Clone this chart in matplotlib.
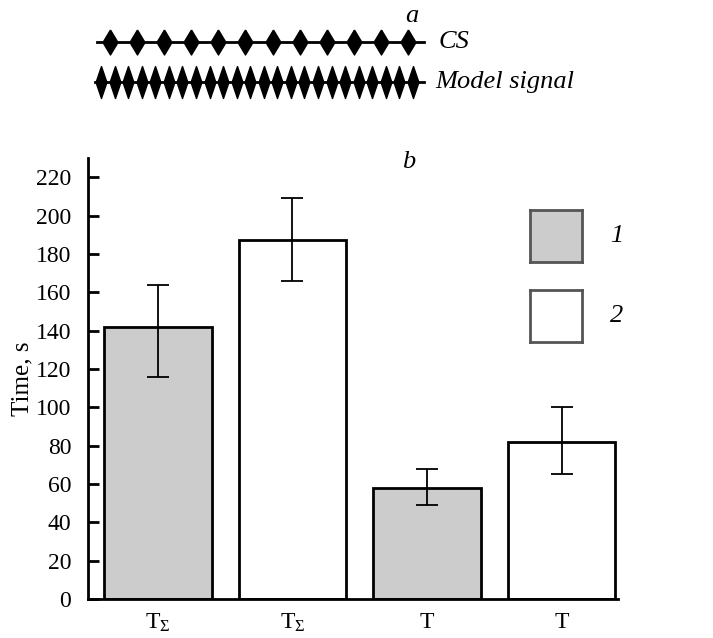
import numpy as np
import matplotlib.pyplot as plt

plt.rcParams['font.family'] = ['Liberation Serif', 'DejaVu Serif']
plt.rcParams['mathtext.fontset'] = 'custom'
plt.rcParams['mathtext.rm'] = 'Liberation Serif'
plt.rcParams['mathtext.it'] = 'Liberation Serif:italic'

######################################################################
# data

categories = ['T$_\\Sigma$', 'T$_\\Sigma$', 'T', 'T']
values = [142, 187, 58, 82]
err_low = [116, 166, 49, 65]
err_high = [164, 209, 68, 100]
groups = [1, 2, 1, 2]
legend_labels = ['1', '2']
n_cs = 12
n_model = 24

colors = {1: '#cccccc', 2: 'white'}

######################################################################

fig = plt.figure(figsize=(7.13, 6.38), dpi=100)

# top panel (a), drawn in pixel coords
top = fig.add_axes([0, 0, 1, 1])
top.set_xlim(0, 713)
top.set_ylim(638, 0)
top.axis('off')

# diamond shapes, width/height ratio differs between the two rows
cs_diamond = [(0, 1), (0.6, 0), (0, -1), (-0.6, 0), (0, 1)]
model_diamond = [(0, 1), (0.34, 0), (0, -1), (-0.34, 0), (0, 1)]
top.plot([97, 424], [42, 42], color='black', lw=2)
top.plot(np.linspace(110, 408, n_cs), [42] * n_cs, ls='none', marker=cs_diamond,
         markersize=18, color='black')
top.plot([95, 424], [82, 82], color='black', lw=2)
top.plot(np.linspace(101, 413, n_model), [82] * n_model, ls='none', marker=model_diamond,
         markersize=23, color='black')
top.text(412, 16, 'a', fontsize=19, style='italic', ha='center', va='center')
top.text(439, 42, 'CS', fontsize=19, style='italic', ha='left', va='center')
top.text(435, 82, 'Model signal', fontsize=19, style='italic', ha='left', va='center')

# bottom panel (b)
ax = fig.add_axes([88 / 713, 1 - 599 / 638, 530 / 713, 441 / 638])
x = np.arange(len(values))
yerr = [np.array(values) - np.array(err_low), np.array(err_high) - np.array(values)]
ax.bar(x, values, width=0.8, color=[colors[g] for g in groups],
       edgecolor='black', linewidth=2, zorder=2)
ax.errorbar(x, values, yerr=yerr, fmt='none', ecolor='black', elinewidth=1.3,
            capsize=8, capthick=1.3, zorder=3)

ax.set_xlim(-0.52, 3.42)
ax.set_ylim(0, 230)
ax.set_yticks(np.arange(0, 221, 20))
ax.set_xticks(x)
ax.set_xticklabels(categories, fontsize=17)
ax.tick_params(axis='y', direction='in', length=8, width=2, labelsize=17, pad=12)
ax.tick_params(axis='x', length=0, pad=9)
ax.spines['top'].set_visible(False)
ax.spines['right'].set_visible(False)
ax.spines['left'].set_linewidth(2)
ax.spines['bottom'].set_linewidth(2)
ax.set_ylabel('Time, s', fontsize=18, labelpad=2)

ax.text(1.86, 228, 'b', fontsize=19, style='italic', ha='center', va='center')

# legend boxes
for i, (g, lab) in enumerate(zip([1, 2], legend_labels)):
    y0 = 1 - (262 + i * 80) / 638
    bax = fig.add_axes([530 / 713, y0, 52 / 713, 52 / 638])
    bax.set_xticks([])
    bax.set_yticks([])
    bax.set_facecolor(colors[g])
    for s in bax.spines.values():
        s.set_linewidth(2)
        s.set_color('#555555')
    fig.text(617 / 713, y0 + 26 / 638, lab, fontsize=19, style='italic',
             ha='center', va='center')

plt.savefig('out.png', dpi=100)
